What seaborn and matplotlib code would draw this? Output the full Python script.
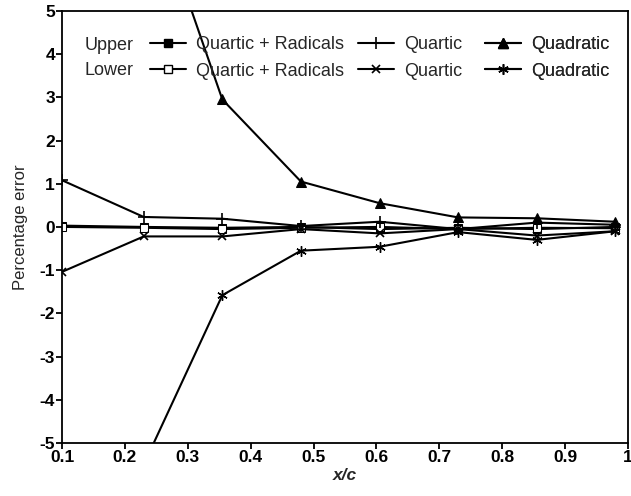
import numpy as np
import pandas as pd
import matplotlib
matplotlib.use("Agg")
import matplotlib.pyplot as plt
import seaborn as sns
from matplotlib.lines import Line2D

# Chordwise stations
x_c = [0.1, 0.23, 0.355, 0.48, 0.605, 0.73, 0.855, 0.98]

# Percentage error on the upper surface
upper_quartic_radicals = [0.03, 0.0, -0.02, 0.0, -0.05, -0.02, -0.05, 0.0]
upper_quartic = [1.08, 0.23, 0.19, 0.02, 0.12, -0.05, 0.10, 0.05]
upper_quadratic = [14.0, 8.2, 2.95, 1.05, 0.55, 0.22, 0.20, 0.12]

# Percentage error on the lower surface
lower_quartic_radicals = [0.0, -0.02, -0.05, -0.02, 0.0, -0.05, -0.02, -0.03]
lower_quartic = [-1.04, -0.22, -0.22, -0.05, -0.15, -0.05, -0.20, -0.10]
lower_quadratic = [-9.5, -5.5, -1.58, -0.55, -0.46, -0.12, -0.30, -0.10]

series_labels = ["Quartic + Radicals", "Quartic", "Quadratic"]

sns.set_theme(style="ticks")
plt.rcParams["font.family"] = ["Liberation Sans", "DejaVu Sans"]
plt.rcParams["axes.unicode_minus"] = False

fig = plt.figure(figsize=(6.31, 4.96), dpi=100)
ax = fig.add_axes([0.0983, 0.107, 0.8967, 0.871])

asterisk = (6, 2, 0)
series = [
    (upper_quartic_radicals, dict(marker="s", markerfacecolor="black", markersize=5.5)),
    (lower_quartic_radicals, dict(marker="s", markerfacecolor="white", markersize=5.5)),
    (upper_quartic, dict(marker="+", markersize=8, markeredgewidth=1.2)),
    (lower_quartic, dict(marker="x", markersize=6, markeredgewidth=1.2)),
    (upper_quadratic, dict(marker="^", markerfacecolor="black", markersize=7)),
    (lower_quadratic, dict(marker=asterisk, markersize=7.5, markeredgewidth=1.0)),
]

for values, style in series:
    df = pd.DataFrame({"x": x_c, "y": values})
    sns.lineplot(data=df, x="x", y="y", ax=ax, color="black", linewidth=1.5,
                 markeredgecolor="black", **style)

ax.set_xlim(0.1, 1.0)
ax.set_ylim(-5, 5)
ax.set_xticks([0.1, 0.2, 0.3, 0.4, 0.5, 0.6, 0.7, 0.8, 0.9, 1.0])
ax.set_xticklabels(["0.1", "0.2", "0.3", "0.4", "0.5", "0.6", "0.7", "0.8", "0.9", "1"])
ax.set_yticks(range(-5, 6))
ax.tick_params(axis="both", direction="out", length=4, width=1.3, color="black",
               labelsize=12.5, labelcolor="black", pad=1)
for lab in ax.get_xticklabels() + ax.get_yticklabels():
    lab.set_fontweight("bold")
for sp in ax.spines.values():
    sp.set_visible(True)
    sp.set_color("black")
    sp.set_linewidth(1.3)

ax.set_xlabel("x/c", fontsize=12.5, fontstyle="italic", fontweight="bold", labelpad=2)
ax.set_ylabel("Percentage error", fontsize=12, labelpad=8)

# Legend: one small two-row legend per method (upper row, lower row)
handles = []
for values, style in series:
    handles.append(Line2D([], [], color="black", linewidth=1.5,
                          markeredgecolor="black", **style))
column_x = [0.155, 0.523, 0.747]
for i, (label, cx) in enumerate(zip(series_labels, column_x)):
    leg = ax.legend(handles[2 * i:2 * i + 2], [label, label], frameon=False,
                    loc="center left", bbox_to_anchor=(cx, 0.891), fontsize=13,
                    handlelength=2.0, handletextpad=0.55, labelspacing=0.5,
                    borderaxespad=0, borderpad=0)
    ax.add_artist(leg)
ax.text(0.04, 0.921, "Upper", transform=ax.transAxes, fontsize=13, va="center")
ax.text(0.04, 0.861, "Lower", transform=ax.transAxes, fontsize=13, va="center")

fig.savefig("out.png", dpi=100)
